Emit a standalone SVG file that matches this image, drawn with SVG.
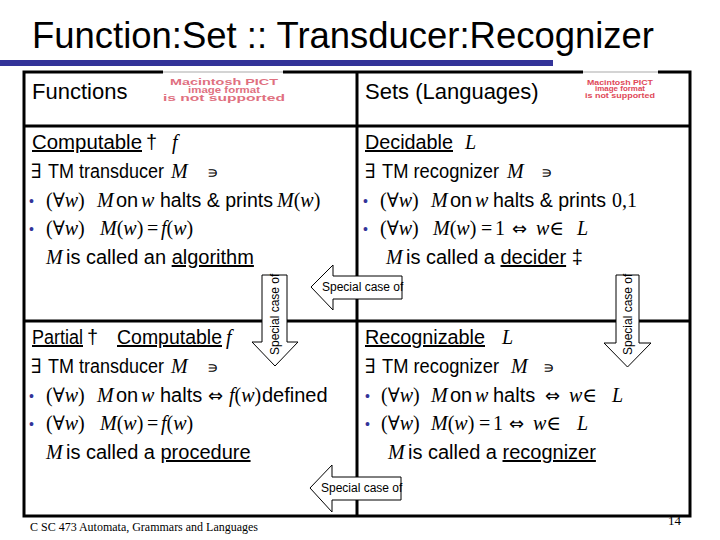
<svg xmlns="http://www.w3.org/2000/svg" width="720" height="540" viewBox="0 0 720 540">
<style>
text{font-family:"Liberation Sans",Arial,"DejaVu Sans",sans-serif;fill:#000}
.t{font-size:20px}
.h{font-size:22px}
.m{font-family:"Liberation Serif","DejaVu Serif",serif;font-style:italic;font-size:20px}
.r{font-family:"Liberation Serif","DejaVu Serif",serif;font-style:normal;font-size:20px}
.s{font-family:"DejaVu Sans",sans-serif;font-size:18px}
.c{font-family:"DejaVu Serif",serif;font-size:16px}
.u{text-decoration:underline}
.bu{fill:#333399;font-size:14px}
.pict{font-weight:bold;text-anchor:middle;fill:#e0707f}
.pict2{font-weight:bold;text-anchor:middle;fill:#e04858}
.frame{fill:none;stroke:#000;stroke-width:3}
.arr{fill:#fff;stroke:#000;stroke-width:1}
.lab{font-size:12px}
.foot{font-family:"Liberation Serif","Times New Roman",serif}
</style>
<rect width="720" height="540" fill="#fff"/>
<text x="32" y="48" style="font-size:36px" textLength="622" lengthAdjust="spacingAndGlyphs">Function:Set :: Transducer:Recognizer</text>
<rect x="0" y="60" width="553" height="6" fill="#333399"/>

<g id="table">
<rect class="frame" x="24" y="72" width="666" height="444"/>
<line class="frame" x1="24" y1="126" x2="690" y2="126"/>
<line class="frame" x1="24" y1="321" x2="690" y2="321"/>
<line class="frame" x1="357" y1="72" x2="357" y2="516"/>
</g>

<g id="functions-header">
<text class="h" x="32" y="99">Functions</text>
<rect x="163" y="70" width="120" height="34" fill="#fff"/>
<line x1="163" y1="72" x2="283" y2="72" stroke="#d4d4d4" stroke-width="2"/>
<text class="pict" style="font-size:8.5px" x="224" y="85" textLength="108" lengthAdjust="spacingAndGlyphs">Macintosh PICT</text>
<text class="pict" style="font-size:8.5px" x="224" y="93" textLength="72" lengthAdjust="spacingAndGlyphs">image format</text>
<text class="pict" style="font-size:8.5px" x="224" y="101" textLength="122" lengthAdjust="spacingAndGlyphs">is not supported</text>
</g>

<g id="sets-header">
<text class="h" x="365" y="99">Sets (Languages)</text>
<rect x="583" y="70" width="75" height="32" fill="#fff"/>
<line x1="583" y1="72" x2="658" y2="72" stroke="#d4d4d4" stroke-width="2"/>
<text class="pict2" style="font-size:8px" x="620" y="84.5" textLength="66" lengthAdjust="spacingAndGlyphs">Macintosh PICT</text>
<text class="pict2" style="font-size:8px" x="620" y="91" textLength="50" lengthAdjust="spacingAndGlyphs">image format</text>
<text class="pict2" style="font-size:8px" x="620" y="97.5" textLength="70" lengthAdjust="spacingAndGlyphs">is not supported</text>
</g>

<g id="computable">
<text class="t" y="149"><tspan class="u" x="32" textLength="110" lengthAdjust="spacingAndGlyphs">Computable</tspan><tspan x="146">†</tspan><tspan class="m" x="172">f</tspan></text>
<text class="t" y="178"><tspan class="r" x="31">∃</tspan><tspan x="48" textLength="116" lengthAdjust="spacingAndGlyphs">TM transducer</tspan><tspan class="m" x="171">M</tspan><tspan class="c" x="207">∍</tspan></text>
<text class="bu" x="29" y="206">•</text>
<text class="t" y="207"><tspan class="r" x="46">(∀<tspan class="m">w</tspan>)</tspan><tspan class="m" x="97">M</tspan><tspan x="116">on</tspan><tspan class="m" x="141">w</tspan><tspan x="160" textLength="113" lengthAdjust="spacingAndGlyphs">halts &amp; prints</tspan><tspan class="r" x="277"><tspan class="m">M</tspan>(<tspan class="m">w</tspan>)</tspan></text>
<text class="bu" x="29" y="234">•</text>
<text class="t" y="235"><tspan class="r" x="46">(∀<tspan class="m">w</tspan>)</tspan><tspan class="r" x="100"><tspan class="m">M</tspan>(<tspan class="m">w</tspan>)</tspan><tspan class="r" x="147">=</tspan><tspan class="r" x="161"><tspan class="m">f</tspan>(<tspan class="m">w</tspan>)</tspan></text>
<text class="t" y="264"><tspan class="m" x="46">M</tspan><tspan x="66">is called an </tspan><tspan class="u">algorithm</tspan></text>
</g>

<g id="decidable">
<text class="t" y="149"><tspan class="u" x="365" textLength="88" lengthAdjust="spacingAndGlyphs">Decidable</tspan><tspan class="m" x="465">L</tspan></text>
<text class="t" y="178"><tspan class="r" x="365">∃</tspan><tspan x="382" textLength="117" lengthAdjust="spacingAndGlyphs">TM recognizer</tspan><tspan class="m" x="507">M</tspan><tspan class="c" x="541">∍</tspan></text>
<text class="bu" x="363" y="206">•</text>
<text class="t" y="207"><tspan class="r" x="380">(∀<tspan class="m">w</tspan>)</tspan><tspan class="m" x="431">M</tspan><tspan x="450">on</tspan><tspan class="m" x="475">w</tspan><tspan x="493" textLength="113" lengthAdjust="spacingAndGlyphs">halts &amp; prints</tspan><tspan class="r" x="612">0,1</tspan></text>
<text class="bu" x="363" y="234">•</text>
<text class="t" y="235"><tspan class="r" x="380">(∀<tspan class="m">w</tspan>)</tspan><tspan class="r" x="433"><tspan class="m">M</tspan>(<tspan class="m">w</tspan>)</tspan><tspan class="r" x="481">=</tspan><tspan class="r" x="495">1</tspan><tspan class="s" x="512">⇔</tspan><tspan class="m" x="536">w</tspan><tspan class="r">∈</tspan><tspan class="m" x="577">L</tspan></text>
<text class="t" y="264"><tspan class="m" x="386">M</tspan><tspan x="406">is called a </tspan><tspan class="u">decider</tspan><tspan> ‡</tspan></text>
</g>

<g id="partial-computable">
<text class="t" y="344"><tspan class="u" x="32" textLength="51" lengthAdjust="spacingAndGlyphs">Partial</tspan><tspan x="87">†</tspan><tspan class="u" x="117" textLength="105" lengthAdjust="spacingAndGlyphs">Computable</tspan><tspan class="m" x="226">f</tspan></text>
<text class="t" y="373"><tspan class="r" x="31">∃</tspan><tspan x="48" textLength="116" lengthAdjust="spacingAndGlyphs">TM transducer</tspan><tspan class="m" x="171">M</tspan><tspan class="c" x="207">∍</tspan></text>
<text class="bu" x="29" y="401">•</text>
<text class="t" y="402"><tspan class="r" x="46">(∀<tspan class="m">w</tspan>)</tspan><tspan class="m" x="97">M</tspan><tspan x="116">on</tspan><tspan class="m" x="141">w</tspan><tspan x="160">halts</tspan><tspan class="s" x="208">⇔</tspan><tspan class="r" x="229"><tspan class="m">f</tspan>(<tspan class="m">w</tspan>)</tspan><tspan x="262">defined</tspan></text>
<text class="bu" x="29" y="429">•</text>
<text class="t" y="430"><tspan class="r" x="46">(∀<tspan class="m">w</tspan>)</tspan><tspan class="r" x="100"><tspan class="m">M</tspan>(<tspan class="m">w</tspan>)</tspan><tspan class="r" x="147">=</tspan><tspan class="r" x="161"><tspan class="m">f</tspan>(<tspan class="m">w</tspan>)</tspan></text>
<text class="t" y="459"><tspan class="m" x="46">M</tspan><tspan x="66">is called a </tspan><tspan class="u">procedure</tspan></text>
</g>

<g id="recognizable">
<text class="t" y="344"><tspan class="u" x="365" textLength="120" lengthAdjust="spacingAndGlyphs">Recognizable</tspan><tspan class="m" x="502">L</tspan></text>
<text class="t" y="373"><tspan class="r" x="365">∃</tspan><tspan x="382" textLength="117" lengthAdjust="spacingAndGlyphs">TM recognizer</tspan><tspan class="m" x="511">M</tspan><tspan class="c" x="543">∍</tspan></text>
<text class="bu" x="365" y="401">•</text>
<text class="t" y="402"><tspan class="r" x="381">(∀<tspan class="m">w</tspan>)</tspan><tspan class="m" x="431">M</tspan><tspan x="450">on</tspan><tspan class="m" x="475">w</tspan><tspan x="493">halts</tspan><tspan class="s" x="545">⇔</tspan><tspan class="m" x="569">w</tspan><tspan class="r">∈</tspan><tspan class="m" x="612">L</tspan></text>
<text class="bu" x="365" y="429">•</text>
<text class="t" y="430"><tspan class="r" x="381">(∀<tspan class="m">w</tspan>)</tspan><tspan class="r" x="431"><tspan class="m">M</tspan>(<tspan class="m">w</tspan>)</tspan><tspan class="r" x="479">=</tspan><tspan class="r" x="493">1</tspan><tspan class="s" x="509">⇔</tspan><tspan class="m" x="533">w</tspan><tspan class="r">∈</tspan><tspan class="m" x="577">L</tspan></text>
<text class="t" y="459"><tspan class="m" x="388">M</tspan><tspan x="408">is called a </tspan><tspan class="u">recognizer</tspan></text>
</g>

<g id="connectors">
<g id="arrow-decidable-to-computable">
<path class="arr" d="M311,287 L333,265 L333,276 L402,276 L402,299 L333,299 L333,310 Z"/>
<text class="lab" x="322" y="291">Special case of</text>
</g>
<g id="arrow-recognizable-to-partial">
<path class="arr" d="M310,488 L332,465 L332,477 L401,477 L401,500 L332,500 L332,512 Z"/>
<text class="lab" x="321" y="492">Special case of</text>
</g>
<g id="arrow-computable-to-partial">
<path class="arr" d="M262,275 L287,275 L287,342 L298,342 L275,366 L252,342 L262,342 Z"/>
<text class="lab" transform="translate(279,355) rotate(-90)">Special case of</text>
</g>
<g id="arrow-decidable-to-recognizable">
<path class="arr" d="M616,275 L639,275 L639,343 L651,343 L627.5,367 L604,343 L616,343 Z"/>
<text class="lab" transform="translate(632,355) rotate(-90)">Special case of</text>
</g>
</g>

<text class="foot" x="30" y="531" style="font-size:13px" textLength="228" lengthAdjust="spacingAndGlyphs">C SC 473 Automata, Grammars and Languages</text>
<text class="foot" x="668" y="525" style="font-size:13px">14</text>
</svg>
